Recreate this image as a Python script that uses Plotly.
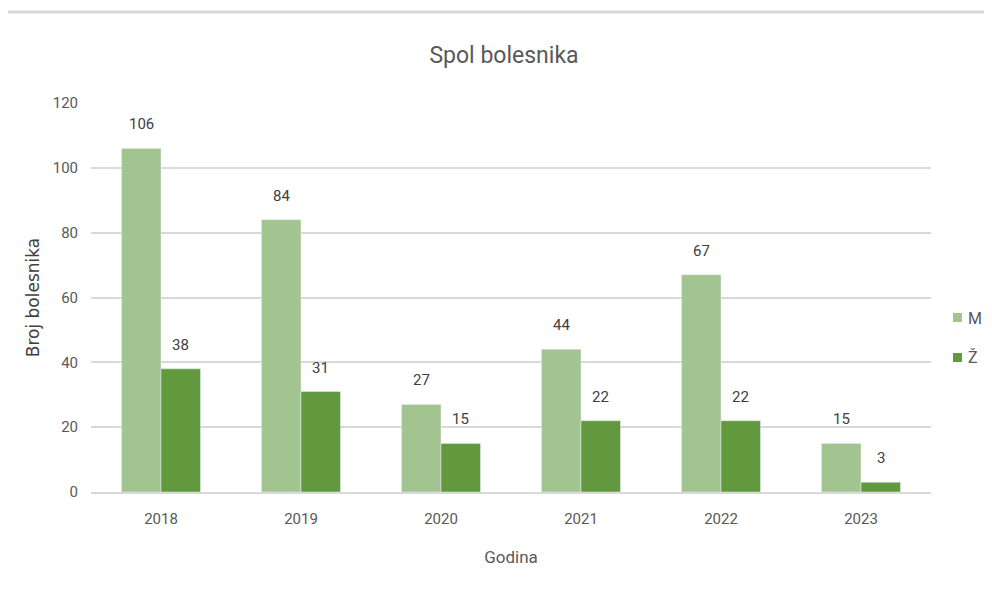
import plotly.graph_objects as go

years = ["2018", "2019", "2020", "2021", "2022", "2023"]
male = [106, 84, 27, 44, 67, 15]
female = [38, 31, 15, 22, 22, 3]
series_names = ["M", "Ž"]
series_colors = ["#A2C490", "#62993E"]

FONT = "Roboto, sans-serif"
TXT = "#595959"
BARGAP = 0.436

fig = go.Figure()
for name, vals, col in zip(series_names, [male, female], series_colors):
    fig.add_trace(go.Bar(x=years, y=vals, name=name, marker_color=col, showlegend=False))

# value labels above bars (category index on x, offset to each bar of the group)
plot_w = 992 - 83 - 69
half_bar = plot_w / len(years) * (1 - BARGAP) / 4
annotations = []
for vals, sign in [(male, -1), (female, 1)]:
    for i, v in enumerate(vals):
        annotations.append(dict(x=i, y=v, text=str(v), showarrow=False,
                                xshift=sign * half_bar, yshift=24, yanchor="middle",
                                font=dict(size=15, color="#404040", family=FONT)))

# compact legend (squares + labels) to the right of the plot
shapes = [dict(type="line", xref="paper", yref="paper", x0=-0.1036, x1=1.0726,
               y0=1.234, y1=1.234, line=dict(color="#D9D9D9", width=3))]
legend_rows = [(0.4602, 0.4370, 0.4473), (0.3573, 0.3342, 0.3445)]
for name, col, (ytop, ybot, ymid) in zip(series_names, series_colors, legend_rows):
    shapes.append(dict(type="rect", xref="paper", yref="paper", x0=1.0262, x1=1.0369,
                       y0=ybot, y1=ytop, fillcolor=col, line=dict(width=0)))
    annotations.append(dict(xref="paper", yref="paper", x=1.0417, y=ymid, text=name,
                            showarrow=False, xanchor="left", yanchor="middle",
                            font=dict(size=16, color=TXT, family=FONT)))

fig.update_layout(
    width=992, height=595,
    margin=dict(l=83, r=69, t=95, b=111),
    paper_bgcolor="white", plot_bgcolor="white",
    barmode="group", bargap=BARGAP, bargroupgap=0,
    font=dict(family=FONT, color=TXT, size=14),
    title=dict(text="Spol bolesnika", x=0.5, xanchor="center", y=0.921, yanchor="middle",
               font=dict(size=23, color="#595959", family=FONT)),
    xaxis=dict(type="category", range=[-0.5, 5.5],
               title=dict(text="Godina", font=dict(size=17, color=TXT), standoff=24),
               automargin=False,
               showgrid=False, showline=True, linecolor="#D9D9D9", linewidth=2,
               ticks="", ticklabelstandoff=12, tickfont=dict(size=15, color=TXT)),
    yaxis=dict(title=dict(text="Broj bolesnika",
                          font=dict(size=17, color="#404040", family="DejaVu Sans, sans-serif"),
                          standoff=8),
               automargin=False,
               range=[0, 120], dtick=20, showgrid=True, gridcolor="#D9D9D9", gridwidth=1.5,
               zeroline=False, showline=False, ticks="", ticklabelstandoff=12,
               tickfont=dict(size=15, color=TXT)),
    showlegend=False,
    annotations=annotations,
    shapes=shapes,
)

fig.write_html("out.html")
